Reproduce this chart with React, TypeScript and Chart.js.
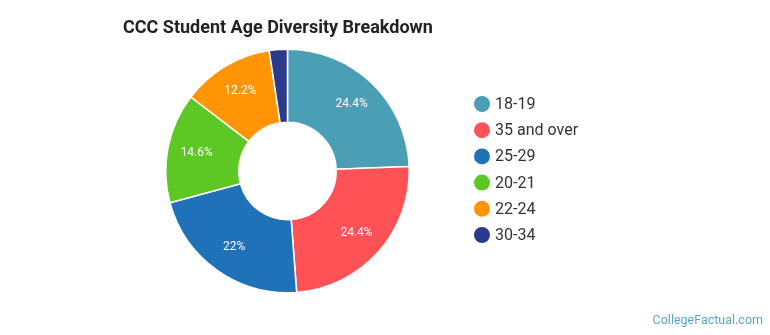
import React, { useEffect, useRef } from "react";
import { Chart, registerables } from "chart.js";

Chart.register(...registerables);

const TITLE = "CCC Student Age Diversity Breakdown";
const FOOTER = "CollegeFactual.com";
const categories = ["18-19", "35 and over", "25-29", "20-21", "22-24", "30-34"];
const values = [24.4, 24.4, 22, 14.6, 12.2, 2.4];
const valueLabels = ["24.4%", "24.4%", "22%", "14.6%", "12.2%", ""];
const colors = ["#4a9fb5", "#ff5257", "#1f71b8", "#5dc823", "#ff9505", "#2c3a8d"];

const FONT = "Roboto, 'Noto Sans', sans-serif";

const overlayPlugin = {
  id: "overlay",
  afterDatasetsDraw(chart: any) {
    const ctx = chart.ctx;
    const meta = chart.getDatasetMeta(0);
    ctx.save();
    // slice labels
    ctx.font = `12px ${FONT}`;
    ctx.fillStyle = "#ffffff";
    ctx.textAlign = "center";
    ctx.textBaseline = "middle";
    meta.data.forEach((arc: any, i: number) => {
      const lbl = valueLabels[i];
      if (!lbl) return;
      const p = arc.getProps(["x", "y", "startAngle", "endAngle", "innerRadius", "outerRadius"], true);
      const mid = (p.startAngle + p.endAngle) / 2;
      const r = p.innerRadius + (p.outerRadius - p.innerRadius) * 0.6;
      ctx.fillText(lbl, p.x + Math.cos(mid) * r, p.y + Math.sin(mid) * r);
    });
    // title
    ctx.font = `bold 18px ${FONT}`;
    ctx.fillStyle = "#222222";
    ctx.textAlign = "left";
    ctx.fillText(TITLE, 123, 28);
    // legend
    ctx.font = `16px ${FONT}`;
    categories.forEach((c, i) => {
      const y = 104 + i * 26.2;
      ctx.beginPath();
      ctx.arc(482, y, 8, 0, Math.PI * 2);
      ctx.fillStyle = colors[i];
      ctx.fill();
      ctx.fillStyle = "#333333";
      ctx.fillText(c, 495, y + 1);
    });
    // footer
    ctx.font = `12.5px ${FONT}`;
    ctx.fillStyle = "#5aa6bf";
    ctx.textAlign = "right";
    ctx.fillText(FOOTER, 763, 321);
    ctx.restore();
  },
};

export default function App() {
  const ref = useRef<HTMLCanvasElement | null>(null);
  useEffect(() => {
    if (!ref.current) return;
    const chart = new Chart(ref.current, {
      type: "doughnut",
      data: {
        labels: categories,
        datasets: [
          {
            data: values,
            backgroundColor: colors,
            borderColor: "#ffffff",
            borderWidth: 1.5,
          },
        ],
      },
      options: {
        responsive: false,
        animation: false,
        cutout: "40%",
        layout: { padding: { left: 165, right: 360, top: 48, bottom: 41 } },
        plugins: {
          legend: { display: false },
          tooltip: { enabled: false },
          title: { display: false },
        },
      },
      plugins: [overlayPlugin],
    });
    return () => chart.destroy();
  }, []);
  return (
    <div style={{ position: "fixed", left: 0, top: 0, width: 770, height: 335, background: "#fff" }}>
      <canvas ref={ref} width={770} height={335} />
    </div>
  );
}
